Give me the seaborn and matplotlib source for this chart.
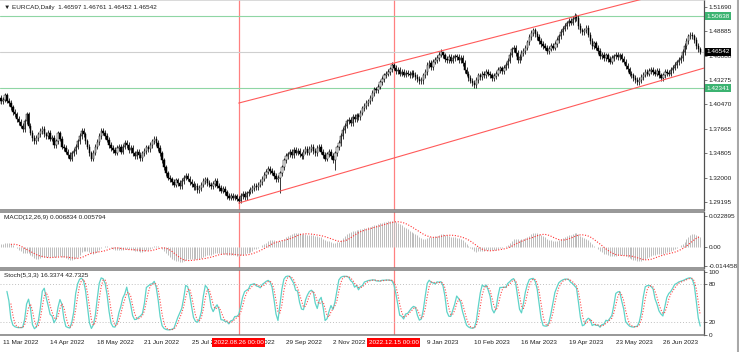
import matplotlib
matplotlib.use("Agg")
import matplotlib.pyplot as plt
import matplotlib.transforms as mtransforms
import numpy as np
import pandas as pd
import seaborn as sns

W, H = 739, 352

START = "2022-03-07"
# daily closes, one row per week (Mon..Fri)
closes = [
    1.4000, 1.4050, 1.4120, 1.4080, 1.4100,
    1.4150, 1.4090, 1.4060, 1.4010, 1.3960,
    1.3930, 1.3880, 1.3840, 1.3800, 1.3760,
    1.3850, 1.3930, 1.3800, 1.3720, 1.3660,
    1.3620, 1.3660, 1.3700, 1.3740, 1.3760,
    1.3700, 1.3680, 1.3720, 1.3650, 1.3660,
    1.3580, 1.3620, 1.3710, 1.3650, 1.3560,
    1.3540, 1.3500, 1.3460, 1.3420, 1.3480,
    1.3510, 1.3560, 1.3620, 1.3680, 1.3740,
    1.3700, 1.3620, 1.3560, 1.3480, 1.3420,
    1.3490, 1.3560, 1.3610, 1.3680, 1.3740,
    1.3720, 1.3680, 1.3640, 1.3580, 1.3540,
    1.3520, 1.3490, 1.3540, 1.3560, 1.3500,
    1.3560, 1.3600, 1.3580, 1.3520, 1.3540,
    1.3480, 1.3450, 1.3500, 1.3460, 1.3430,
    1.3480, 1.3510, 1.3550, 1.3530, 1.3580,
    1.3620, 1.3650, 1.3600, 1.3540, 1.3480,
    1.3400, 1.3320, 1.3250, 1.3200, 1.3180,
    1.3150, 1.3120, 1.3170, 1.3140, 1.3100,
    1.3160, 1.3200, 1.3220, 1.3190, 1.3150,
    1.3130, 1.3090, 1.3110, 1.3060, 1.3080,
    1.3120, 1.3160, 1.3180, 1.3140, 1.3120,
    1.3100, 1.3130, 1.3160, 1.3110, 1.3080,
    1.3050, 1.3070, 1.3030, 1.2990, 1.2970,
    1.2990, 1.2970, 1.2985, 1.2960, 1.2935,
    1.2990, 1.3010, 1.2980, 1.3020, 1.3040,
    1.3060, 1.3080, 1.3110, 1.3090, 1.3120,
    1.3150, 1.3190, 1.3230, 1.3270, 1.3300,
    1.3280, 1.3260, 1.3220, 1.3180, 1.3200,
    1.3250, 1.3320, 1.3400, 1.3450, 1.3470,
    1.3500, 1.3460, 1.3520, 1.3490, 1.3510,
    1.3470, 1.3450, 1.3500, 1.3530, 1.3490,
    1.3530, 1.3560, 1.3510, 1.3480, 1.3540,
    1.3560, 1.3500, 1.3460, 1.3420, 1.3470,
    1.3500, 1.3450, 1.3400, 1.3480, 1.3550,
    1.3600, 1.3680, 1.3750, 1.3800, 1.3850,
    1.3870, 1.3830, 1.3900, 1.3880, 1.3920,
    1.3900, 1.3950, 1.4000, 1.4030, 1.4060,
    1.4080, 1.4120, 1.4180, 1.4220, 1.4210,
    1.4250, 1.4300, 1.4340, 1.4380, 1.4400,
    1.4420, 1.4450, 1.4500, 1.4470, 1.4430,
    1.4440, 1.4400, 1.4420, 1.4390, 1.4410,
    1.4400, 1.4380, 1.4410, 1.4390, 1.4360,
    1.4340, 1.4310, 1.4330, 1.4380, 1.4420,
    1.4500, 1.4520, 1.4480, 1.4540, 1.4560,
    1.4580, 1.4620, 1.4650, 1.4610, 1.4570,
    1.4560, 1.4590, 1.4550, 1.4580, 1.4600,
    1.4590, 1.4560, 1.4580, 1.4520, 1.4440,
    1.4400, 1.4350, 1.4320, 1.4290, 1.4270,
    1.4330, 1.4380, 1.4360, 1.4400, 1.4380,
    1.4420, 1.4400, 1.4380, 1.4350, 1.4370,
    1.4400, 1.4440, 1.4460, 1.4430, 1.4470,
    1.4500, 1.4550, 1.4620, 1.4680, 1.4700,
    1.4640, 1.4560, 1.4590, 1.4640, 1.4660,
    1.4700, 1.4760, 1.4820, 1.4870, 1.4900,
    1.4860, 1.4820, 1.4780, 1.4740, 1.4720,
    1.4700, 1.4660, 1.4690, 1.4720, 1.4700,
    1.4740, 1.4790, 1.4830, 1.4880, 1.4920,
    1.4950, 1.4980, 1.5010, 1.4990, 1.5030,
    1.5060, 1.5040, 1.4950, 1.4900, 1.4880,
    1.4900, 1.4930, 1.4850, 1.4780, 1.4720,
    1.4750, 1.4700, 1.4660, 1.4600, 1.4620,
    1.4580, 1.4610, 1.4570, 1.4540, 1.4580,
    1.4600, 1.4620, 1.4590, 1.4610, 1.4570,
    1.4540, 1.4490, 1.4450, 1.4400, 1.4380,
    1.4350, 1.4330, 1.4300, 1.4330, 1.4360,
    1.4390, 1.4420, 1.4400, 1.4430, 1.4440,
    1.4420, 1.4400, 1.4430, 1.4380, 1.4350,
    1.4380, 1.4420, 1.4410, 1.4400, 1.4440,
    1.4470, 1.4500, 1.4530, 1.4560, 1.4580,
    1.4650, 1.4720, 1.4780, 1.4830, 1.4850,
    1.4830, 1.4790, 1.4720, 1.4680, 1.4654,
]
WICK = 0.0032
spike_lows = {"2022-08-26": 1.2908, "2022-09-26": 1.3020, "2022-11-03": 1.3290,
              "2023-01-05": 1.4285, "2023-02-10": 1.4236}
spike_highs = {"2022-12-15": 1.4522, "2023-01-19": 1.4640, "2023-04-24": 1.5100}

h_levels_green = [1.50638, 1.42341]
last_price = 1.46542
vlines_dates = ["2022-08-26", "2022-12-15"]
vlines_labels = ["2022.08.26 00:00", "2022.12.15 00:00"]
upper_line = [("2022-08-26", 1.4061), ("2022-12-15", 1.4522)]
lower_line = [("2022-08-26", 1.2908), ("2023-06-26", 1.4327)]

price_ticks = [1.51690, 1.48885, 1.46080, 1.43275, 1.40470, 1.37665, 1.34805, 1.32000, 1.29195]
macd_ticks = [0.022895, 0.0, -0.014458]
macd_tick_labels = ["0.022895", "0.00", "-0.014458"]
stoch_ticks = [100, 80, 20, 0]

# "6 Dec 2022" sits completely under the red 2022.12.15 label in the terminal, so it is left out
tick_dates = ["2022-03-11", "2022-04-14", "2022-05-18", "2022-06-21", "2022-07-25",
              "2022-08-26", "2022-09-29", "2022-11-02", "2023-01-09",
              "2023-02-10", "2023-03-16", "2023-04-19", "2023-05-23", "2023-06-26"]
tick_labels = ["11 Mar 2022", "14 Apr 2022", "18 May 2022", "21 Jun 2022", "25 Jul 2022",
               "26 Aug 2022", "29 Sep 2022", "2 Nov 2022", "9 Jan 2023",
               "10 Feb 2023", "16 Mar 2023", "19 Apr 2023", "23 May 2023", "26 Jun 2023"]

title_main = "\u25bc EURCAD,Daily  1.46597 1.46761 1.46452 1.46542"
title_macd = "MACD(12,26,9) 0.006834 0.005794"
title_stoch = "Stoch(5,3,3) 16.3374 42.7325"

# ---- data frame ----
dates = pd.bdate_range(START, periods=len(closes))
df = pd.DataFrame({"date": dates, "close": closes})
df["i"] = np.arange(len(df))
df["open"] = df["close"].shift(1).fillna(df["close"].iloc[0])
df["high"] = df[["open", "close"]].max(axis=1) + WICK
df["low"] = df[["open", "close"]].min(axis=1) - WICK


def idx(d):
    return dates.get_loc(pd.Timestamp(d))


for d, v in spike_lows.items():
    df.loc[idx(d), "low"] = v
for d, v in spike_highs.items():
    df.loc[idx(d), "high"] = v

# indicators, as the terminal computes them
ema12 = df["close"].ewm(span=12, adjust=False).mean()
ema26 = df["close"].ewm(span=26, adjust=False).mean()
df["macd"] = ema12 - ema26
df["signal"] = df["macd"].rolling(9).mean()
ll = df["low"].rolling(5).min()
hh = df["high"].rolling(5).max()
df["k"] = 100 * (df["close"] - ll).rolling(3).sum() / (hh - ll).rolling(3).sum()
df["d"] = df["k"].rolling(3).mean()

# ---- figure ----
sns.set_style("white")
plt.rcParams["font.family"] = ["Liberation Sans", "DejaVu Sans"]
FS = 4.6
TXT = "#202020"

fig = plt.figure(figsize=(W / 100, H / 100), dpi=100)


def box(top, bottom):
    return [0, 1 - bottom / H, 704 / W, (bottom - top) / H]


ax_m = fig.add_axes(box(0, 210))
ax_c = fig.add_axes(box(212, 268))
ax_s = fig.add_axes(box(270, 335))

# pixel x: 11 Mar 2022 at 3 px, 1.964 px per bar
x0 = idx("2022-03-11") - 3 / 1.964
x1 = x0 + 704 / 1.964
for ax in (ax_m, ax_c, ax_s):
    ax.set_xlim(x0, x1)
    ax.set_facecolor("white")
    ax.spines["left"].set_visible(False)
    ax.spines["right"].set_color("#505050")
    ax.spines["right"].set_linewidth(0.9)
    for s in ("top", "bottom"):
        ax.spines[s].set_color("#7a7a7a")
        ax.spines[s].set_linewidth(1.1)
    ax.yaxis.tick_right()
    ax.tick_params(axis="y", length=2, width=0.5, labelsize=FS, pad=1.5,
                   colors="#404040", labelcolor=TXT)
    ax.grid(False)
    for d in vlines_dates:
        ax.axvline(idx(d), color="#ff8080", lw=0.9, zorder=1)
ax_m.spines["top"].set_color("#d0d0d0")
ax_m.set_xticks([])
ax_c.set_xticks([])

# ---- main price panel ----
ax_m.set_ylim(1.5169 - 203 / 867, 1.5169 + 7 / 867)
for lv in h_levels_green:
    ax_m.axhline(lv, color="#8fd6a4", lw=0.8, zorder=1)
ax_m.axhline(last_price, color="#cfcfcf", lw=0.8, zorder=1)

ax_m.vlines(df["i"], df["low"], df["high"], color="black", lw=0.55, zorder=3)
up = df["close"] >= df["open"]
ax_m.bar(df["i"][up], (df["close"] - df["open"])[up], bottom=df["open"][up], width=0.7,
         color="white", edgecolor="black", lw=0.35, zorder=4)
ax_m.bar(df["i"][~up], (df["open"] - df["close"])[~up], bottom=df["close"][~up], width=0.7,
         color="black", edgecolor="black", lw=0.35, zorder=4)

for (da, pa), (db, pb) in (upper_line, lower_line):
    ia, ib = idx(da), idx(db)
    slope = (pb - pa) / (ib - ia)
    ax_m.plot([ia, x1], [pa, pa + slope * (x1 - ia)], color="#ff5a5a", lw=0.8, zorder=5)

ax_m.set_yticks(price_ticks)
ax_m.set_yticklabels([f"{t:.5f}" for t in price_ticks])
trans_m = mtransforms.blended_transform_factory(ax_m.transAxes, ax_m.transData)
for lv in h_levels_green:
    ax_m.text(1.003, lv, f"{lv:.5f}", transform=trans_m, ha="left", va="center", fontsize=FS,
              color="white", clip_on=False, zorder=10,
              bbox=dict(boxstyle="square,pad=0.25", fc="#3cb371", ec="none"))
ax_m.text(1.003, last_price, f"{last_price:.5f}", transform=trans_m, ha="left", va="center",
          fontsize=FS, color="white", clip_on=False, zorder=10,
          bbox=dict(boxstyle="square,pad=0.25", fc="black", ec="none"))
ax_m.text(0.006, 1 - 7 / 210, title_main, transform=ax_m.transAxes, ha="left", va="center",
          fontsize=FS, color=TXT)

# ---- MACD panel ----
ax_c.set_ylim(-0.014458 - 2 / 1338.6, 0.022895 + 4 / 1338.6)
ax_c.vlines(df["i"], 0, df["macd"], color="#bcbcbc", lw=0.7, zorder=2)
sns.lineplot(x=df["i"], y=df["signal"], ax=ax_c, color="#ff3030", lw=0.8,
             linestyle=(0, (1, 1.5)), zorder=3)
ax_c.set_xlabel("")
ax_c.set_ylabel("")
ax_c.set_yticks(macd_ticks)
ax_c.set_yticklabels(macd_tick_labels)
ax_c.text(0.006, 1 - 5 / 56, title_macd, transform=ax_c.transAxes, ha="left", va="center",
          fontsize=FS, color=TXT)

# ---- Stochastic panel ----
ax_s.set_ylim(-0.2, 102.5)
for lv in (20, 80):
    ax_s.axhline(lv, color="#c0c0c0", lw=0.7, linestyle=(0, (1, 2)), zorder=1)
sns.lineplot(x=df["i"], y=df["k"], ax=ax_s, color="#5fd3c8", lw=0.9, zorder=3)
sns.lineplot(x=df["i"], y=df["d"], ax=ax_s, color="#ff4a4a", lw=0.8,
             linestyle=(0, (1, 1.5)), zorder=4)
ax_s.set_xlabel("")
ax_s.set_ylabel("")
ax_s.set_yticks(stoch_ticks)
ax_s.set_yticklabels([str(t) for t in stoch_ticks])
ax_s.text(0.006, 1 - 6 / 65, title_stoch, transform=ax_s.transAxes, ha="left", va="center",
          fontsize=FS, color=TXT)

ax_s.set_xticks([idx(d) for d in tick_dates])
ax_s.set_xticklabels(tick_labels)
ax_s.tick_params(axis="x", length=2, width=0.5, labelsize=FS, pad=1.5,
                 colors="#404040", labelcolor=TXT)
for lbl in ax_s.get_xticklabels():
    lbl.set_ha("left")

for d, lab in zip(vlines_dates, vlines_labels):
    ax_s.text(idx(d), -5 / 65, lab, transform=ax_s.get_xaxis_transform(), ha="center",
              va="top", fontsize=FS, color="white", clip_on=False, zorder=20,
              bbox=dict(boxstyle="square,pad=0.25", fc="#ff0000", ec="none"))

# right window edge
fig.add_artist(plt.Line2D([737.5 / W, 737.5 / W], [0, 1], color="#a8a8a8", lw=1.5))

fig.savefig("out.png", dpi=100)
